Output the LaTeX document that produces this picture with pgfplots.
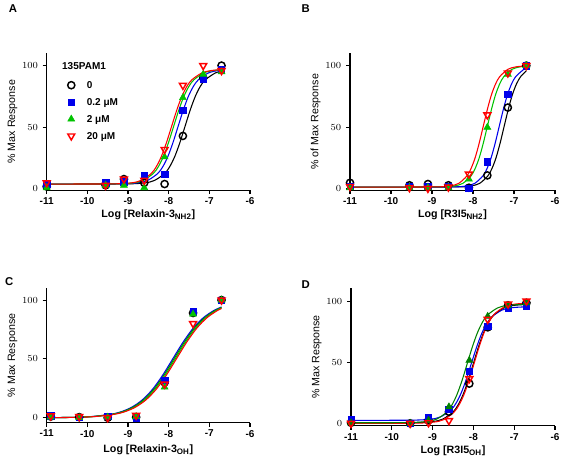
\documentclass[border=0pt]{standalone}
\usepackage{fontspec}
\setmainfont{Liberation Sans}
\usepackage{pgfplots}
\pgfplotsset{compat=1.18}
\definecolor{mblue}{RGB}{0,0,235}
\definecolor{mgreen}{RGB}{0,195,0}
\definecolor{dgreen}{RGB}{0,128,0}
\definecolor{mred}{RGB}{255,0,0}
\newcommand{\tf}{\bfseries\fontsize{7.5}{9}\selectfont}
\pgfplotsset{
  panel/.style={scale only axis, axis x line*=bottom, axis y line*=left,
    axis line style={-, line width=0.8pt}, xmin=-11, xmax=-6,
    xtick={-11,-10,-9,-8,-7,-6}, xticklabels={-11,-10,-9,-8,-7,-6},
    ytick={0,50,100}, tick align=outside, major tick length=3pt,
    tick style={black, line width=0.8pt},
    ticklabel style={font=\tf}, xticklabel style={yshift=1pt},
    xlabel style={font=\bfseries\fontsize{8}{9.6}\selectfont, at={(axis description cs:0.5,-0.18)}, anchor=center},
    ylabel style={font=\fontsize{8}{9.6}\selectfont, at={(axis description cs:-0.168,0.5)}, anchor=center, rotate=0},
    clip=false},
  s0/.style={only marks, black, mark=o, mark size=2.7pt, mark options={line width=1.1pt}},
  s1/.style={only marks, mblue, mark=square*, mark size=2.4pt},
  s2/.style={only marks, mgreen, mark=triangle*, mark size=3pt},
  s3/.style={only marks, mred, mark=triangle, mark size=3pt, mark options={rotate=180, line width=1.1pt}},
  cv/.style={no marks, smooth, line width=0.8pt, forget plot},
}
\begin{document}
\begin{tikzpicture}
\path[use as bounding box] (0,0) rectangle (422.25pt,346.5pt);
\node[font=\bfseries\fontsize{8.5}{10}\selectfont] at (9.75pt,339.75pt) {A};
\node[font=\bfseries\fontsize{8.5}{10}\selectfont] at (229.3pt,339.75pt) {B};
\node[font=\bfseries\fontsize{8.5}{10}\selectfont] at (7pt,135.2pt) {C};
\node[font=\bfseries\fontsize{8.5}{10}\selectfont] at (229.3pt,132.75pt) {D};

% ---------------- Panel A
\begin{axis}[panel, at={(35pt,203.85pt)}, anchor=south west, width=152.5pt, height=102.7pt,
  ymin=-1, ymax=110, xlabel={Log [Relaxin-3\textsubscript{NH2}]}, ylabel={\% Max Response},
  legend style={at={(rel axis cs:0.102,0.815)}, anchor=north west, draw=none, fill=none,
    font=\tf, inner sep=0pt, row sep=3.2pt, nodes={inner sep=1pt, text height=6pt, text depth=1.5pt},
    /tikz/every odd column/.append style={column sep=8pt}},
  legend cell align=left]
\addplot[cv, black] coordinates {(-11,4) (-9.1,4.1) (-8.6,4.9) (-8.35,6.9) (-8.1,12.5) (-7.975,18.0) (-7.85,26.3) (-7.725,37.5) (-7.6,50.5) (-7.475,63.5) (-7.35,74.7) (-7.225,83.0) (-7.1,88.5) (-6.85,94.1) (-6.7,95.5)};
\addplot[cv, mblue] coordinates {(-11,4) (-9.27,4.1) (-8.77,4.9) (-8.52,6.9) (-8.27,12.5) (-8.145,18.0) (-8.02,26.3) (-7.895,37.5) (-7.77,50.5) (-7.645,63.5) (-7.52,74.7) (-7.395,83.0) (-7.27,88.5) (-7.02,94.1) (-6.77,96.1) (-6.7,96.3)};
\addplot[cv, mgreen] coordinates {(-11,4) (-9.38,4.1) (-8.88,4.9) (-8.63,6.9) (-8.38,12.5) (-8.255,18.0) (-8.13,26.3) (-8.005,37.5) (-7.88,50.5) (-7.755,63.5) (-7.63,74.7) (-7.505,83.0) (-7.38,88.5) (-7.13,94.1) (-6.88,96.1) (-6.7,96.6)};
\addplot[cv, mred] coordinates {(-11,4) (-9.43,4.1) (-8.93,4.9) (-8.68,6.9) (-8.43,12.5) (-8.305,18.0) (-8.18,26.3) (-8.055,37.5) (-7.93,50.5) (-7.805,63.5) (-7.68,74.7) (-7.555,83.0) (-7.43,88.5) (-7.18,94.1) (-6.93,96.1) (-6.7,96.7)};
\addplot[s0] coordinates {(-11,2) (-9.55,3) (-9.1,8) (-8.6,5) (-8.1,4) (-7.65,43) (-7.15,90) (-6.7,100)};
\addlegendentry{0}
\addplot[s1] coordinates {(-11,4) (-9.55,5) (-9.1,6) (-8.6,11) (-8.1,12) (-7.65,64) (-7.15,89) (-6.7,97)};
\addlegendentry{0.2 μM}
\addplot[s2] coordinates {(-11,1) (-9.55,3) (-9.1,3) (-8.6,1) (-8.1,26) (-7.65,74) (-7.15,93) (-6.7,95)};
\addlegendentry{2 μM}
\addplot[s3] coordinates {(-11,5) (-9.55,3) (-9.1,8) (-8.6,7) (-8.1,32) (-7.65,84) (-7.15,100) (-6.7,96)};
\addlegendentry{20 μM}
\node[font=\tf, anchor=west, inner sep=0pt] at (rel axis cs:0.075,0.907) {135PAM1};
\end{axis}

% ---------------- Panel B
\begin{axis}[panel, at={(262.5pt,203.85pt)}, anchor=south west, width=153.75pt, height=102.7pt,
  ymin=-1, ymax=110, xlabel={Log [R3I5\textsubscript{NH2}]}, ylabel={\% of Max Response}]
\addplot[cv, black] coordinates {(-11,1.5) (-8.74,1.6) (-8.24,1.8) (-8.04,2.5) (-7.84,4.5) (-7.64,10.5) (-7.54,16.4) (-7.44,25.1) (-7.34,37.0) (-7.24,50.8) (-7.14,64.5) (-7.04,76.4) (-6.94,85.1) (-6.84,91.0) (-6.7,95.8)};
\addplot[cv, mblue] coordinates {(-11,1.5) (-8.86,1.6) (-8.36,1.8) (-8.16,2.5) (-7.96,4.5) (-7.76,10.5) (-7.66,16.4) (-7.56,25.1) (-7.46,37.0) (-7.36,50.8) (-7.26,64.5) (-7.16,76.4) (-7.06,85.1) (-6.96,91.0) (-6.76,97.0) (-6.7,97.9)};
\addplot[cv, mgreen] coordinates {(-11,1.5) (-9.15,1.6) (-8.65,1.8) (-8.45,2.5) (-8.25,4.5) (-8.05,10.5) (-7.95,16.4) (-7.85,25.1) (-7.75,37.0) (-7.65,50.8) (-7.55,64.5) (-7.45,76.4) (-7.35,85.1) (-7.25,91.0) (-7.05,97.0) (-6.85,99.0) (-6.7,99.6)};
\addplot[cv, mred] coordinates {(-11,1.5) (-9.25,1.6) (-8.75,1.8) (-8.55,2.5) (-8.35,4.5) (-8.15,10.5) (-8.05,16.4) (-7.95,25.1) (-7.85,37.0) (-7.75,50.8) (-7.65,64.5) (-7.55,76.4) (-7.45,85.1) (-7.35,91.0) (-7.15,97.0) (-6.95,99.0) (-6.7,99.8)};
\addplot[s0] coordinates {(-11,5) (-9.55,3) (-9.1,4) (-8.6,3) (-8.1,1) (-7.65,11) (-7.15,66) (-6.7,100)};
\addplot[s1] coordinates {(-11,2) (-9.55,2) (-9.1,2) (-8.6,2) (-8.1,0.5) (-7.65,22) (-7.15,77) (-6.7,100)};
\addplot[s2] coordinates {(-11,1) (-9.55,1) (-9.1,1) (-8.6,1) (-8.1,8) (-7.65,50) (-7.15,93) (-6.7,100)};
\addplot[s3] coordinates {(-11,2) (-9.55,1) (-9.1,0.5) (-8.6,1.5) (-8.1,12) (-7.65,60) (-7.15,94) (-6.7,100)};
\end{axis}

% ---------------- Panel C
\begin{axis}[panel, at={(35pt,29.5pt)}, anchor=south west, width=152.5pt, height=100.8pt,
  ymin=-4.2, ymax=110, xlabel={Log [Relaxin-3\textsubscript{OH}]}, ylabel={\% Max Response},
  xlabel style={at={(axis description cs:0.5,-0.2)}}]
\addplot[cv, mblue] coordinates {(-10.9,0.1) (-10.4,0.3) (-9.9,1.0) (-9.4,3.1) (-9.15,5.3) (-8.9,9.1) (-8.65,15.1) (-8.4,24.0) (-8.15,36.0) (-7.9,50) (-7.65,64) (-7.4,76) (-7.15,84.9) (-6.9,90.9) (-6.7,94.1)};
\addplot[cv, dgreen] coordinates {(-10.9,0.1) (-10.37,0.3) (-9.87,1.0) (-9.37,3.1) (-9.12,5.3) (-8.87,9.1) (-8.62,15.1) (-8.37,24.0) (-8.12,36.0) (-7.87,50) (-7.62,64) (-7.37,76) (-7.12,84.9) (-6.87,90.9) (-6.7,93.7)};
\addplot[cv, mgreen] coordinates {(-10.9,0.1) (-10.34,0.3) (-9.84,1.0) (-9.34,3.1) (-9.09,5.3) (-8.84,9.1) (-8.59,15.1) (-8.34,24.0) (-8.09,36.0) (-7.84,50) (-7.59,64) (-7.34,76) (-7.09,84.9) (-6.84,90.9) (-6.7,93.3)};
\addplot[cv, mred] coordinates {(-10.9,0.1) (-10.31,0.3) (-9.81,1.0) (-9.31,3.1) (-9.06,5.3) (-8.81,9.1) (-8.56,15.1) (-8.31,24.0) (-8.06,36.0) (-7.81,50) (-7.56,64) (-7.31,76) (-7.06,84.9) (-6.81,90.9) (-6.7,92.8)};
\addplot[s0] coordinates {(-10.9,1) (-10.2,0.5) (-9.5,0) (-8.8,0.5) (-8.1,30) (-7.4,89) (-6.7,100)};
\addplot[s1] coordinates {(-10.9,1.5) (-10.2,0.5) (-9.5,1) (-8.8,0) (-8.1,32) (-7.4,90) (-6.7,100)};
\addplot[s2] coordinates {(-10.9,0.5) (-10.2,0) (-9.5,0.5) (-8.8,1) (-8.1,26) (-7.4,88) (-6.7,100)};
\addplot[s3] coordinates {(-10.9,1.5) (-10.2,1) (-9.5,0) (-8.8,2) (-8.1,28.5) (-7.4,80) (-6.7,100)};
\end{axis}

% ---------------- Panel D
\begin{axis}[panel, at={(263.25pt,27.15pt)}, anchor=south west, width=153pt, height=103.2pt,
  ymin=-1.5, ymax=111, xlabel={Log [R3I5\textsubscript{OH}]}, ylabel={\% Max Response}]
\addplot[cv, mblue] coordinates {(-11,3) (-9.55,3.1) (-9.05,3.9) (-8.8,5.9) (-8.55,11.5) (-8.425,17.0) (-8.3,25.3) (-8.175,36.5) (-8.05,49.5) (-7.925,62.5) (-7.8,73.7) (-7.675,82.0) (-7.55,87.5) (-7.3,93.1) (-7.05,95.1) (-6.7,95.8)};
\addplot[cv, black] coordinates {(-11,1) (-9.5,1.1) (-9.0,2.0) (-8.75,4.0) (-8.5,9.8) (-8.375,15.6) (-8.25,24.3) (-8.125,35.9) (-8.0,49.5) (-7.875,63.1) (-7.75,74.7) (-7.625,83.4) (-7.5,89.2) (-7.25,95.0) (-7.0,97.0) (-6.7,97.7)};
\addplot[cv, mred] coordinates {(-11,0.5) (-9.48,0.6) (-8.98,1.5) (-8.73,3.5) (-8.48,9.5) (-8.355,15.4) (-8.23,24.1) (-8.105,36.0) (-7.98,49.8) (-7.855,63.5) (-7.73,75.4) (-7.605,84.1) (-7.48,90.0) (-7.23,95.9) (-6.98,98.0) (-6.7,98.7)};
\addplot[cv, dgreen] coordinates {(-11,1) (-9.65,1.1) (-9.15,2.0) (-8.9,4.0) (-8.65,9.8) (-8.525,15.6) (-8.4,24.3) (-8.275,35.9) (-8.15,49.5) (-8.025,63.1) (-7.9,74.7) (-7.775,83.4) (-7.65,89.2) (-7.4,95.0) (-7.15,97.0) (-6.7,97.9)};
\addplot[s0] coordinates {(-11,1) (-9.55,0.5) (-9.1,3) (-8.6,10) (-8.1,33) (-7.65,79) (-7.15,97) (-6.7,99)};
\addplot[s1] coordinates {(-11,3.8) (-9.55,0.5) (-9.1,5.5) (-8.6,12) (-8.1,43) (-7.65,80) (-7.15,94.5) (-6.7,96.5)};
\addplot[s2, dgreen] coordinates {(-11,1) (-9.55,0.5) (-9.1,3) (-8.6,14) (-8.1,52) (-7.65,88) (-7.15,97) (-6.7,99)};
\addplot[s3] coordinates {(-11,0.5) (-9.55,0.5) (-9.1,1) (-8.6,2.7) (-8.1,37) (-7.65,85.5) (-7.15,98) (-6.7,100.5)};
\end{axis}
\end{tikzpicture}
\end{document}
